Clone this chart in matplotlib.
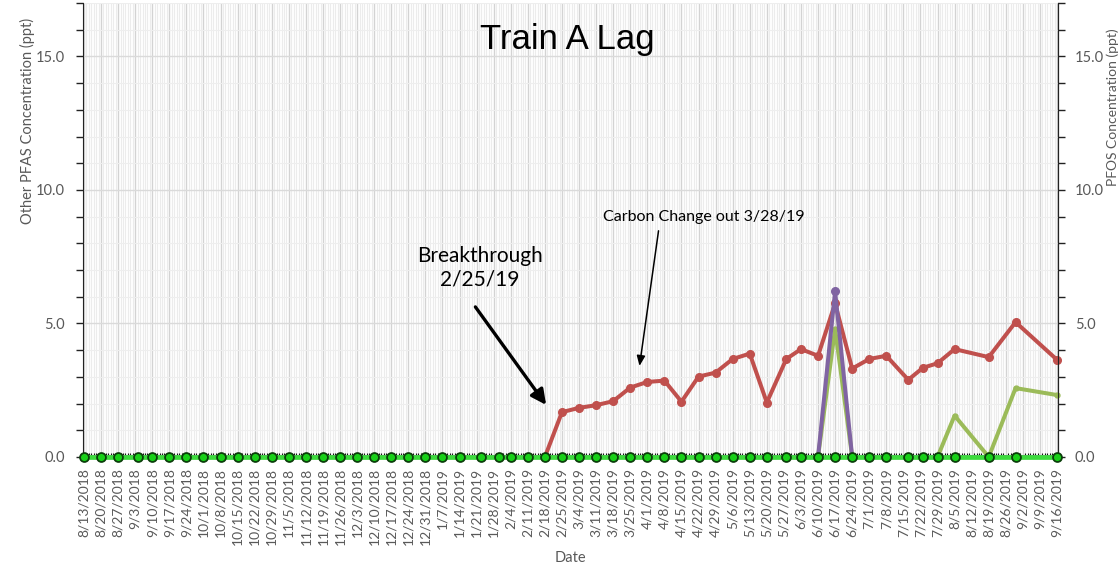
import matplotlib
matplotlib.use("Agg")
import matplotlib.pyplot as plt
import matplotlib.dates as mdates
from matplotlib.ticker import MultipleLocator, FixedLocator
import pandas as pd

# ---------------- data ----------------
sample_dates = [
    "2018-08-13", "2018-08-20", "2018-08-27", "2018-09-04", "2018-09-10", "2018-09-17",
    "2018-09-24", "2018-10-01", "2018-10-08", "2018-10-15", "2018-10-22", "2018-10-29",
    "2018-11-05", "2018-11-12", "2018-11-19", "2018-11-26", "2018-12-03", "2018-12-10",
    "2018-12-17", "2018-12-24", "2018-12-31",
    "2019-01-07", "2019-01-14", "2019-01-23", "2019-01-30", "2019-02-04", "2019-02-11",
    "2019-02-18", "2019-02-25", "2019-03-04", "2019-03-11", "2019-03-18", "2019-03-25",
    "2019-04-01", "2019-04-08", "2019-04-15", "2019-04-22", "2019-04-29", "2019-05-06",
    "2019-05-13", "2019-05-20", "2019-05-28", "2019-06-03", "2019-06-10", "2019-06-17",
    "2019-06-24", "2019-07-01", "2019-07-08", "2019-07-17", "2019-07-23", "2019-07-29",
    "2019-08-05", "2019-08-19", "2019-08-30", "2019-09-16",
]

# Other PFAS (left axis)
red_series = [0.0] * 28 + [
    1.68, 1.84, 1.94, 2.09, 2.60, 2.81, 2.86, 2.07, 3.01, 3.16, 3.67, 3.87, 2.04,
    3.67, 4.04, 3.79, 5.75, 3.31, 3.67, 3.79, 2.89, 3.34, 3.51, 4.04, 3.74, 5.05, 3.64,
]
olive_series = [0.0] * 44 + [4.80] + [0.0] * 6 + [1.55, 0.0, 2.58, 2.32]
purple_series = [0.0] * 44 + [6.20] + [0.0] * 10
# PFOS (right axis)
pfos_series = [0.0] * 55

tick_labels = [
    "8/13/2018", "8/20/2018", "8/27/2018", "9/3/2018", "9/10/2018", "9/17/2018", "9/24/2018",
    "10/1/2018", "10/8/2018", "10/15/2018", "10/22/2018", "10/29/2018", "11/5/2018",
    "11/12/2018", "11/19/2018", "11/26/2018", "12/3/2018", "12/10/2018", "12/17/2018",
    "12/24/2018", "12/31/2018", "1/7/2019", "1/14/2019", "1/21/2019", "1/28/2019",
    "2/4/2019", "2/11/2019", "2/18/2019", "2/25/2019", "3/4/2019", "3/11/2019", "3/18/2019",
    "3/25/2019", "4/1/2019", "4/8/2019", "4/15/2019", "4/22/2019", "4/29/2019", "5/6/2019",
    "5/13/2019", "5/20/2019", "5/27/2019", "6/3/2019", "6/10/2019", "6/17/2019",
    "6/24/2019", "7/1/2019", "7/8/2019", "7/15/2019", "7/22/2019", "7/29/2019", "8/5/2019",
    "8/12/2019", "8/19/2019", "8/26/2019", "9/2/2019", "9/9/2019", "9/16/2019",
]

# ---------------- plot ----------------
dates = pd.to_datetime(sample_dates)
tick_dates = pd.to_datetime(tick_labels, format="%m/%d/%Y")

fig = plt.figure(figsize=(11.2, 5.73), dpi=100)
ax = fig.add_axes([83 / 1120, 1 - 457 / 573, 975 / 1120, 454 / 573])
ax2 = ax.twinx()

gray = "#595959"
calibri = "Lato"

ax.plot(dates, red_series, color="#C0504D", lw=2.9, marker="o", ms=5.5,
        mec="#C0504D", mfc="#C0504D", zorder=3, clip_on=False)
ax.plot(dates, olive_series, color="#9BBB59", lw=2.9, marker="o", ms=3.5,
        mec="#9BBB59", mfc="#9BBB59", zorder=4, clip_on=False)
ax.plot(dates, purple_series, color="#8064A2", lw=2.9, marker="o", ms=5.5,
        mec="#8064A2", mfc="#8064A2", zorder=5, clip_on=False)
ax2.plot(dates, pfos_series, color="#3DDB3D", lw=3.4, marker="o", ms=6.4,
         mfc="#18D018", mec="#0B3F0B", mew=1.3, zorder=6, clip_on=False)

x0 = mdates.date2num(tick_dates[0])
ax.set_xlim(x0 - 0.4, x0 + 399.4)
ax.set_ylim(0, 17)
ax2.set_ylim(0, 17)

# x ticks
ax.xaxis.set_major_locator(FixedLocator(mdates.date2num(tick_dates)))
ax.set_xticklabels(tick_labels, rotation=90, fontsize=10, color=gray, family=calibri)
ax.xaxis.set_minor_locator(mdates.DayLocator())
ax.tick_params(axis="x", which="major", length=0, pad=8)
ax.tick_params(axis="x", which="minor", direction="in", length=3, width=0.8, color="#111111")

# y ticks
for a in (ax, ax2):
    a.yaxis.set_major_locator(MultipleLocator(5))
    a.yaxis.set_minor_locator(MultipleLocator(1))
    a.yaxis.set_major_formatter(matplotlib.ticker.FormatStrFormatter("%.1f"))
    a.tick_params(axis="y", which="both", direction="out", length=5, width=1,
                  color="#222222", labelsize=10.5, labelcolor=gray, pad=8)
    for lab in a.get_yticklabels():
        lab.set_family(calibri)
    a.spines["top"].set_visible(False)
    a.spines["left"].set_color("#222222")
    a.spines["right"].set_color("#222222")
    a.spines["bottom"].set_color("#bbbbbb")
ax2.spines["left"].set_visible(False)
ax2.tick_params(axis="y", which="both", pad=7)

# grid
ax.grid(which="major", axis="x", color="#d3d3d3", lw=1.0)
ax.grid(which="minor", axis="x", color="#ececec", lw=0.8)
ax.grid(which="major", axis="y", color="#dadada", lw=1.0)
ax.grid(which="minor", axis="y", color="#eeeeee", lw=0.8)
ax.set_axisbelow(True)

ax.set_xlabel("Date", fontsize=10.5, color=gray, family=calibri, labelpad=4)
ax.set_ylabel("Other PFAS Concentration (ppt)", fontsize=10.5, color=gray, family=calibri)
ax.yaxis.set_label_coords(-0.049, 0.74)
ax2.set_ylabel("PFOS Concentration (ppt)", fontsize=10, color=gray, family=calibri,
               rotation=90)
ax2.yaxis.set_label_coords(1.05, 0.77)

# title / annotations
fig.text(567 / 1120, 1 - 40 / 573, "Train A Lag", fontsize=25, family="Liberation Sans",
         ha="center", va="center", color="black")

d = lambda s: mdates.date2num(pd.Timestamp(s))
ax.annotate("", xy=(d("2019-02-18") + 0.5, 1.95), xytext=(d("2019-01-20") + 0.5, 5.62),
            arrowprops=dict(arrowstyle="-|>,head_length=0.9,head_width=0.45",
                            color="black", lw=2.4, shrinkA=0, shrinkB=0), zorder=7)
ax.text(d("2019-01-22") + 0.3, 7.09, "Breakthrough\n2/25/19", fontsize=15, family=calibri,
        ha="center", va="center", color="black", linespacing=1.25)

ax.annotate("", xy=(d("2019-03-29") - 0.2, 3.41), xytext=(d("2019-04-06") - 0.4, 8.47),
            arrowprops=dict(arrowstyle="-|>,head_length=0.6,head_width=0.25",
                            color="black", lw=1.1, shrinkA=0, shrinkB=0), zorder=7)
ax.text(d("2019-04-24"), 9.0, "Carbon Change out 3/28/19", fontsize=11.5, family=calibri,
        ha="center", va="center", color="black")

fig.savefig("out.png", dpi=100)
